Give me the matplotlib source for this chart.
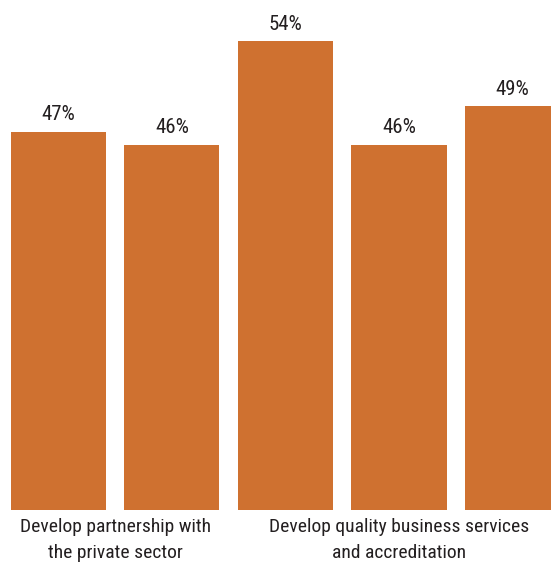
import matplotlib
matplotlib.use("Agg")
import matplotlib.pyplot as plt

# data
values = [47, 46, 54, 46, 49]
value_labels = ["47%", "46%", "54%", "46%", "49%"]
groups = ["Develop partnership with\nthe private sector",
          "Develop quality business services\nand accreditation"]
group_members = [[0, 1], [2, 3, 4]]

BAR_COLOR = "#CF7130"
TEXT_COLOR = "#231F20"

plt.rcParams["font.family"] = ["Roboto Condensed", "DejaVu Sans"]

fig = plt.figure(figsize=(5.51, 5.65), dpi=100)
ax = fig.add_axes([0, 55 / 565, 1, 510 / 565])

x = list(range(len(values)))
ax.bar(x, values, width=0.837, color=BAR_COLOR)

for xi, v, lab in zip(x, values, value_labels):
    ax.annotate(lab, (xi, v), xytext=(0, 5.5), textcoords="offset points",
                ha="center", va="bottom", fontsize=15, color=TEXT_COLOR)

for name, members in zip(groups, group_members):
    cx = sum(members) / len(members)
    ax.annotate(name, (cx, 0), xycoords=("data", "axes fraction"),
                xytext=(0, -6), textcoords="offset points",
                ha="center", va="top", fontsize=14, color=TEXT_COLOR,
                linespacing=1.55, annotation_clip=False)

ax.set_xlim(-0.515, 4.339)
ax.set_ylim(17.8, 57.2)
ax.axis("off")

fig.savefig("out.png", dpi=100)
